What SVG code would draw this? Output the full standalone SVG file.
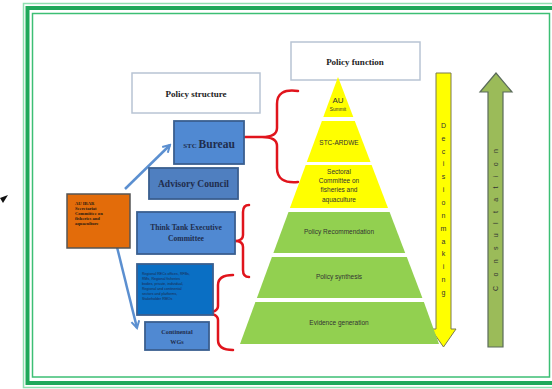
<svg xmlns="http://www.w3.org/2000/svg" width="552" height="389" viewBox="0 0 552 389">
<defs>
<marker id="ah" viewBox="0 0 10 10" refX="8" refY="5" markerWidth="4" markerHeight="4" orient="auto" markerUnits="strokeWidth">
<path d="M1,1 L8,5 L1,9" fill="none" stroke="#5b8fd0" stroke-width="2"/>
</marker>
<style>
.hdr{fill:#fff;stroke:#b8c4d4;stroke-width:1.5}
.hd{font-family:"Liberation Serif",serif;font-weight:bold;font-size:9px;fill:#222;text-anchor:middle}
.bx{stroke:#3a5f8f;stroke-width:1.8}
.st{font-family:"Liberation Serif",serif;font-weight:bold;fill:#1f2d4d;text-anchor:middle}
.pt{font-family:"Liberation Sans",sans-serif;fill:#333;text-anchor:middle}
.yl{fill:#ffff00}
.gr{fill:#92d050}
.br{fill:none;stroke:#e0141c;stroke-width:2.5;stroke-linecap:round;stroke-linejoin:round}
.ar{fill:none;stroke:#5b8fd0;stroke-width:2.5}
.vt{font-family:"Liberation Sans",sans-serif;font-size:7px;fill:#333;text-anchor:middle}
</style>
</defs>
<rect width="552" height="389" fill="#fff"/>
<!-- frame -->
<g id="frame" fill="none">
<rect x="23.5" y="3.5" width="540" height="384" stroke="#8fe0b0" stroke-width="1.5"/>
<rect x="27.5" y="8" width="532" height="375" stroke="#1fa85a" stroke-width="4"/>
<rect x="32.5" y="13.5" width="517" height="363.5" stroke="#3cbf74" stroke-width="1.5"/>
</g>
<polygon points="0,198 8,195 3,203" fill="#111"/>
<!-- headers -->
<g id="policy-function"><rect class="hdr" x="291" y="42" width="129" height="38"/><text class="hd" x="355" y="65">Policy function</text></g>
<g id="policy-structure"><rect class="hdr" x="132" y="73" width="128" height="40"/><text class="hd" x="196" y="97">Policy structure</text></g>
<!-- connectors -->
<g id="connectors">
<line class="ar" x1="125" y1="189" x2="170" y2="145" marker-end="url(#ah)"/>
<line class="ar" x1="116" y1="243" x2="137" y2="328" marker-end="url(#ah)"/>
<path class="br" d="M298,91 Q277,88 277,104 L277,128 Q277,137 262,137 L245,137 M262,137 Q277,137 277,146 L277,168 Q277,184 298,182"/>
<path class="br" d="M249,205 Q243,205 243,212 L243,235 Q243,241 235,241 Q243,241 243,247 L243,270 Q243,277 249,277"/>
<path class="br" d="M233,275 Q218,275 218,285 L218,306 Q218,313 203,313 Q218,313 218,320 L218,340 Q218,350 233,350"/>
</g>
<!-- structure nodes -->
<g id="stc-bureau"><rect class="bx" x="174" y="121" width="70" height="43" fill="#5089d2"/><text class="st" x="209" y="148"><tspan font-size="7">STC </tspan><tspan font-size="11.5">Bureau</tspan></text></g>
<g id="advisory-council"><rect class="bx" x="149" y="168" width="89" height="31" fill="#4f7fc0"/><text class="st" x="193.5" y="187" font-size="9.5">Advisory Council</text></g>
<g id="au-ibar"><rect x="67" y="194" width="63" height="54" fill="#e36c0a" stroke="#555" stroke-width="1.5"/>
<text font-family="Liberation Serif,serif" font-weight="bold" font-size="4.6" fill="#2a1a10"><tspan x="75" y="205">AU IBAR</tspan><tspan x="75" y="210">Secretariat</tspan><tspan x="75" y="215">Committee on</tspan><tspan x="75" y="220">fisheries and</tspan><tspan x="75" y="225">aquaculture</tspan></text></g>
<g id="think-tank"><rect class="bx" x="137" y="212" width="98" height="42" fill="#5089d2"/><text class="st" font-size="7.6"><tspan x="186" y="230">Think Tank Executive</tspan><tspan x="186" y="241">Committee</tspan></text></g>
<g id="regional"><rect class="bx" x="137" y="264" width="76" height="51" fill="#0a6fc4"/>
<text font-family="Liberation Sans,sans-serif" font-size="3.6" fill="#1a2a50"><tspan x="142" y="275">Regional RECs offices, RFBs,</tspan><tspan x="142" y="280">RMs, Regional fisheries</tspan><tspan x="142" y="285">bodies, private, individual,</tspan><tspan x="142" y="290">Regional and continental</tspan><tspan x="142" y="295">sectors and platforms,</tspan><tspan x="142" y="300">Stakeholder RMOs</tspan></text></g>
<g id="continental-wgs"><rect class="bx" x="145" y="322" width="64" height="28" fill="#5089d2"/><text class="st" font-size="6.2"><tspan x="177" y="334">Continental</tspan><tspan x="177" y="344">WGs</tspan></text></g>
<!-- arrows right -->
<g id="decision-making">
<path d="M436,73 L451,73 L451,329 L456,329 L443.5,347 L431,329 L436,329 Z" fill="#ffff00" stroke="#7a7a50" stroke-width="1"/>
<text class="vt"><tspan x="443.5" y="128">D</tspan><tspan x="443.5" y="141">e</tspan><tspan x="443.5" y="154">c</tspan><tspan x="443.5" y="166">i</tspan><tspan x="443.5" y="179">s</tspan><tspan x="443.5" y="192">i</tspan><tspan x="443.5" y="205">o</tspan><tspan x="443.5" y="218">n</tspan><tspan x="443.5" y="231">m</tspan><tspan x="443.5" y="244">a</tspan><tspan x="443.5" y="256">k</tspan><tspan x="443.5" y="269">i</tspan><tspan x="443.5" y="282">n</tspan><tspan x="443.5" y="295">g</tspan></text>
</g>
<g id="consultation">
<path d="M488,347 L488,92 L480,92 L496,73 L512,92 L503,92 L503,347 Z" fill="#9bbb59" stroke="#5a6b5a" stroke-width="1.2"/>
<text class="vt" transform="translate(498,220) rotate(-90)" x="0" y="0" textLength="142" lengthAdjust="spacing">Consultation</text>
</g>
<!-- pyramid -->
<g id="au-summit"><polygon class="yl" points="338,77 353.3,117 323.3,117"/><text class="pt" x="338" y="103" font-size="8">AU</text><text class="pt" x="338" y="111" font-size="4.8">Summit</text></g>
<g id="stc-ardwe"><polygon class="yl" points="321.9,121 354.8,121 370.5,162 306.8,162"/><text class="pt" x="339" y="145" font-size="6.5">STC-ARDWE</text></g>
<g id="sectoral"><polygon class="yl" points="305.7,165 371.6,165 388,208 289.9,208"/><text class="pt" font-size="6.5"><tspan x="339" y="174">Sectoral</tspan><tspan x="339" y="183">Committee on</tspan><tspan x="339" y="192">fisheries and</tspan><tspan x="339" y="202">aquaculture</tspan></text></g>
<g id="policy-recommendation"><polygon class="gr" points="288.5,212 389.6,212 405.2,253 273.4,253"/><text class="pt" x="339" y="234" font-size="6.5">Policy Recommendation</text></g>
<g id="policy-synthesis"><polygon class="gr" points="271.9,257 406.8,257 422.4,298 256.9,298"/><text class="pt" x="339" y="279" font-size="6.5">Policy synthesis</text></g>
<g id="evidence-generation"><polygon class="gr" points="255.4,302 423.9,302 439,344 240,344"/><text class="pt" x="339" y="325" font-size="6.5">Evidence generation</text></g>
</svg>
